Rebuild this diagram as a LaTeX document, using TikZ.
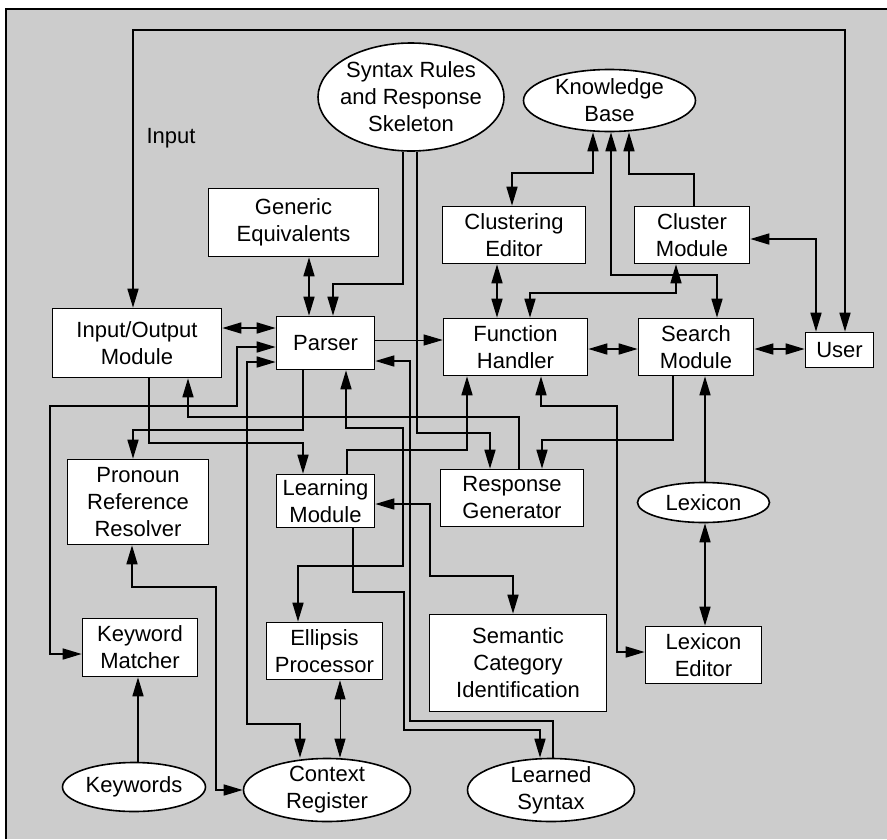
\documentclass[tikz,border=0pt]{standalone}
\usepackage{fontspec}
\setmainfont{Liberation Sans}
\usetikzlibrary{arrows.meta,shapes.geometric}
\definecolor{panelgray}{HTML}{CCCCCC}
\tikzset{
  >={Triangle[length=19pt,width=11pt]},
  every node/.style={font=\fontsize{22}{27}\selectfont},
  unit/.style={draw,fill=white,line width=1.6pt,rectangle,align=center,inner sep=0pt},
  store/.style={draw,fill=white,line width=1.6pt,ellipse,align=center,inner xsep=0pt,inner ysep=-5pt},
  wire/.style={line width=1.6pt},
  fine/.style={line width=0.9pt},
}
\begin{document}
\begin{tikzpicture}[x=1pt,y=-1pt]
    \useasboundingbox (0,0) rectangle (887,839);
    \fill[panelgray] (6,9) rectangle (887,839);
    \draw[line width=1.6pt] (6,839) -- (6,9) -- (887,9);

    % stores
    \node[store,inner xsep=-10pt,minimum width=186pt,minimum height=108pt] (syn) at (411,97) {Syntax Rules\\and Response\\Skeleton};
    \node[store,minimum width=172pt,minimum height=62pt] (kb) at (609.5,100.5) {Knowledge\\Base};
    \node[store,minimum width=132pt,minimum height=40pt] (lex) at (703.5,502.5) {Lexicon};
    \node[store,minimum width=143pt,minimum height=49pt] (kw) at (134,787) {Keywords};
    \node[store,minimum width=167pt,minimum height=63pt] (ctx) at (327,790) {Context\\Register};
    \node[store,minimum width=167pt,minimum height=63pt] (lsyn) at (551,790) {Learned\\Syntax};

    % modules
    \node[unit,minimum width=170pt,minimum height=68pt] (gen) at (293.5,222.5) {Generic\\Equivalents};
    \node[unit,minimum width=143pt,minimum height=57pt] (cled) at (514,235) {Clustering\\Editor};
    \node[unit,minimum width=115pt,minimum height=57pt] (clmod) at (692,235) {Cluster\\Module};
    \node[unit,minimum width=169pt,minimum height=69pt] (io) at (137,343) {Input/Output\\Module};
    \node[unit,minimum width=98pt,minimum height=53pt] (parser) at (325.5,343) {Parser};
    \node[unit,minimum width=144pt,minimum height=57pt] (fh) at (515.5,347) {Function\\Handler};
    \node[unit,minimum width=115pt,minimum height=57pt] (search) at (696,347) {Search\\Module};
    \node[unit,minimum width=68pt,minimum height=35pt] (user) at (839.5,350) {User};
    \node[unit,minimum width=141pt,minimum height=85pt] (pron) at (138,502) {Pronoun\\Reference\\Resolver};
    \node[unit,minimum width=98pt,minimum height=53pt] (learn) at (325.5,501) {Learning\\Module};
    \node[unit,minimum width=143pt,minimum height=57pt] (resp) at (512,498) {Response\\Generator};
    \node[unit,minimum width=115pt,minimum height=58pt] (kwm) at (140,647.5) {Keyword\\Matcher};
    \node[unit,minimum width=116pt,minimum height=57pt] (ell) at (324.5,651) {Ellipsis\\Processor};
    \node[unit,minimum width=177pt,minimum height=97pt] (sem) at (518,663) {Semantic\\Category\\Identification};
    \node[unit,minimum width=116pt,minimum height=57pt] (lexed) at (703.5,655) {Lexicon\\Editor};

    \node (inlbl) at (171,138) {Input};

    % top loop and user side
    \draw[wire,<->] ([xshift=5.5pt]user.north) |- (133,30) -- ([xshift=-4pt]io.north);
    \draw[wire,<->] ([yshift=-4pt]clmod.east) -| ([xshift=-23.5pt]user.north);
    \draw[wire,<->] ([yshift=-2pt]search.east) -- ([yshift=1pt]user.west);

    % knowledge base
    \draw[wire,<->] ([xshift=-16.5pt]kb.south) |- (512,173) -- ([xshift=-2pt]cled.north);
    \draw[wire,<->] ([xshift=1.5pt]kb.south) |- (717,275) -- ([xshift=21pt]search.north);
    \draw[wire,->] ([xshift=2pt]clmod.north) |- (629,174) -- ([xshift=19.5pt]kb.south);
    \draw[wire,<->] ([xshift=-16pt]clmod.south) |- (530,293) -- ([xshift=14.5pt]fh.north);
    \draw[wire,<->] ([xshift=-17pt]cled.south) -- ([xshift=-18.5pt]fh.north);

    % syntax rules
    \draw[wire,->] ([xshift=-8pt]syn.south) |- (333,284) -- ([xshift=7.5pt]parser.north);
    \draw[wire,->] ([xshift=6pt]syn.south) |- (490,433) -- ([xshift=-22pt]resp.north);
    \draw[wire,<->] ([xshift=15.5pt]gen.south) -- ([xshift=-16.5pt]parser.north);

    % parser row
    \draw[wire,<->] ([yshift=15pt]io.east) -- ([yshift=15pt]parser.west);
    \draw[fine,->] ([yshift=3pt]parser.east) -- ([yshift=7pt]fh.west);
    \draw[wire,<->] ([yshift=-2pt]fh.east) -- ([yshift=-2pt]search.west);

    % below the parser
    \draw[wire,<->] ([yshift=-4pt]parser.west) -| (237,406) -| (50,654) -- ([yshift=-6.5pt]kwm.west);
    \draw[wire,<->] ([yshift=-19pt]parser.west) -| (247,724) -| ([xshift=-27pt]ctx.north);
    \draw[wire,->] ([xshift=-22.5pt]parser.south) |- (133,430) -- ([xshift=-5pt]pron.north);
    \draw[wire,->] ([xshift=12pt]io.south) |- (303,443) -- ([xshift=-22.5pt]learn.north);
    \draw[wire,->] ([xshift=7pt]resp.north) |- (188,417) -- ([xshift=51pt]io.south);
    \draw[wire,<->] ([xshift=20.5pt]parser.south) |- (403,428) |- (298,566) -- ([xshift=-26.5pt]ell.north);
    \draw[wire,->] ([xshift=2pt]lsyn.north) |- (410,721) |- ([yshift=-18pt]parser.east);
    \draw[wire,->] ([xshift=27.5pt]learn.south) |- (404,592) |- (540,730) -- ([xshift=-11pt]lsyn.north);
    \draw[wire,<->] ([yshift=-3pt]learn.east) -| (430,576) -| ([xshift=-5pt]sem.north);
    \draw[wire,->] ([xshift=21.5pt]learn.north) |- (467,450) -- ([xshift=-48.5pt]fh.south);

    % search, lexicon
    \draw[wire,->] ([xshift=-23pt]search.south) |- (542,440) -- ([xshift=30pt]resp.north);
    \draw[wire,<->] ([xshift=25.5pt]fh.south) |- (617,406) |- ([yshift=3pt]lexed.west);
    \draw[wire,->] ([xshift=1.5pt]lex.north) -- ([xshift=9pt]search.south);
    \draw[wire,<->] ([xshift=1.5pt]lex.south) -- ([xshift=1.5pt]lexed.north);

    % bottom left
    \draw[wire,->] ([xshift=4pt]kw.north) -- ([xshift=-2pt]kwm.south);
    \draw[wire,<->] ([xshift=-6pt]pron.south) |- (216,587) |- (ctx.west);
    \draw[fine,<->] ([xshift=15.5pt]ell.south) -- ([xshift=13pt]ctx.north);
\end{tikzpicture}
\end{document}
